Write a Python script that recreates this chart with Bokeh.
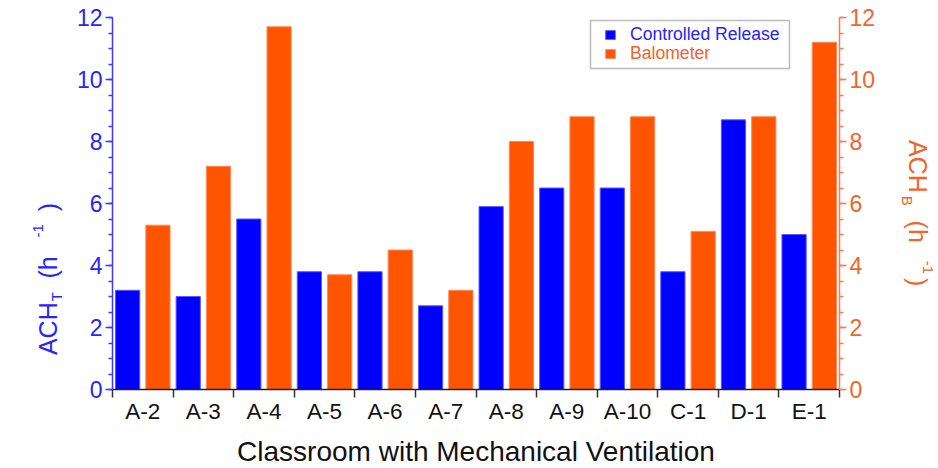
import numpy as np
from bokeh.plotting import figure
from bokeh.models import (ColumnDataSource, Range1d, LinearAxis, SingleIntervalTicker,
                          FixedTicker, Legend, LegendItem, Label, BoxAnnotation)
from bokeh.transform import dodge
from bokeh.embed import file_html
from bokeh.resources import INLINE

# ---- data ----
classrooms = ["A-2", "A-3", "A-4", "A-5", "A-6", "A-7", "A-8", "A-9", "A-10", "C-1", "D-1", "E-1"]
controlled_release = [3.2, 3.0, 5.5, 3.8, 3.8, 2.7, 5.9, 6.5, 6.5, 3.8, 8.7, 5.0]
balometer = [5.3, 7.2, 11.7, 3.7, 4.5, 3.2, 8.0, 8.8, 8.8, 5.1, 8.8, 11.2]
y_max = 12

FONT = "Liberation Sans"
BLUE = "#0000ff"
ORANGE = "#ff5500"
BLUE_AX = "#3a3aff"
ORANGE_AX = "#ff7a48"
BLUE_TXT = "#2424ff"
ORANGE_TXT = "#f2642a"

W, H = 938, 468
# pixel placement of the plotting area inside the canvas
PX_L, PX_R, PX_T, PX_B = 112, 839, 17, 389

n = len(classrooms)
centers = [i + 0.5 for i in range(n)]
src = ColumnDataSource(dict(x=centers, t=controlled_release, b=balometer, name=classrooms))

sx = (PX_R - PX_L) / n
sy = (PX_B - PX_T) / y_max
x_rng = Range1d(-PX_L / sx, n + (W - PX_R) / sx)
y_rng = Range1d(-(H - PX_B) / sy, y_max + PX_T / sy)

p = figure(width=W, height=H, output_backend="svg", toolbar_location=None,
           x_range=x_rng, y_range=y_rng,
           min_border_left=0, min_border_right=0, min_border_top=0, min_border_bottom=0,
           x_axis_type=None, y_axis_type=None)
p.outline_line_color = None
p.xgrid.visible = False
p.ygrid.visible = False
p.extra_y_ranges = {"right": Range1d(y_rng.start, y_rng.end)}

rb = p.vbar(x=dodge("x", -0.25), top="t", bottom=0, width=0.4, source=src,
            fill_color=BLUE, line_color="#5a5aff", line_width=1)
ro = p.vbar(x=dodge("x", 0.25), top="b", bottom=0, width=0.4, source=src,
            y_range_name="right", fill_color=ORANGE, line_color="#ff8a5a", line_width=1)


def style_y(ax, line_col, txt_col):
    ax.axis_line_color = line_col
    ax.axis_line_width = 1.5
    ax.major_tick_line_color = line_col
    ax.minor_tick_line_color = line_col
    ax.major_tick_line_width = 1.5
    ax.minor_tick_line_width = 1.5
    ax.major_tick_out = 7
    ax.major_tick_in = 0
    ax.minor_tick_out = 4
    ax.minor_tick_in = 0
    ax.major_label_text_color = txt_col
    ax.major_label_text_font = FONT
    ax.major_label_text_font_size = "23px"
    ax.major_label_standoff = 3


# left axis
yl = LinearAxis(ticker=SingleIntervalTicker(interval=2, num_minor_ticks=4),
                fixed_location=0, bounds=(0, y_max))
style_y(yl, BLUE_AX, BLUE_TXT)
p.add_layout(yl, "left")

# right axis
yr = LinearAxis(y_range_name="right", ticker=SingleIntervalTicker(interval=2, num_minor_ticks=4),
                fixed_location=n, bounds=(0, y_max))
style_y(yr, ORANGE_AX, ORANGE_TXT)
p.add_layout(yr, "right")

# x axis: labels at centers, tick marks at group boundaries
xa = LinearAxis(ticker=FixedTicker(ticks=centers, minor_ticks=list(range(n + 1))),
                fixed_location=0, bounds=(0, n))
xa.major_label_overrides = {c: name for c, name in zip(centers, classrooms)}
xa.axis_line_color = "#222222"
xa.axis_line_width = 1.5
xa.major_tick_line_color = None
xa.major_tick_out = 0
xa.major_tick_in = 0
xa.minor_tick_line_color = "#333333"
xa.minor_tick_line_width = 1.5
xa.minor_tick_out = 8
xa.minor_tick_in = 0
xa.major_label_text_font = FONT
xa.major_label_text_font_size = "22.5px"
xa.major_label_text_color = "#111111"
xa.major_label_standoff = 1
xa.axis_label = "Classroom with Mechanical Ventilation"
xa.axis_label_text_font = FONT
xa.axis_label_text_font_style = "normal"
xa.axis_label_text_font_size = "28px"
xa.axis_label_text_color = "#111111"
xa.axis_label_standoff = 9
p.add_layout(xa, "below")


# y axis titles composed of pieces (sub/superscripts)
def piece(x, y, text, size, color, angle):
    p.add_layout(Label(x=x, y=y, text=text, angle=angle, text_font=FONT,
                       text_font_size=size, text_color=color,
                       text_align="left", text_baseline="middle"))


a = np.pi / 2
piece(-1.07, 1.11, "ACH", "25px", BLUE_TXT, a)
piece(-0.93, 2.85, "T", "15px", BLUE_TXT, a)
piece(-1.07, 3.58, "(h", "25px", BLUE_TXT, a)
piece(-1.23, 4.90, "-1", "15px", BLUE_TXT, a)
piece(-1.07, 5.75, ")", "25px", BLUE_TXT, a)

piece(13.30, 8.05, "ACH", "25px", ORANGE_TXT, -a)
piece(13.13, 6.25, "B", "15px", ORANGE_TXT, -a)
piece(13.30, 5.45, "(h", "25px", ORANGE_TXT, -a)
piece(13.46, 4.15, "-1", "15px", ORANGE_TXT, -a)
piece(13.30, 3.60, ")", "25px", ORANGE_TXT, -a)

# legend: two single-item legends inside one border box
common = dict(background_fill_alpha=0, border_line_color=None, padding=2, margin=0,
              glyph_width=12, glyph_height=11, label_height=16, label_standoff=14,
              label_text_font=FONT, label_text_font_size="17.6px", spacing=0)
leg1 = Legend(items=[LegendItem(label="Controlled Release", renderers=[rb])],
              location=(604, 423), label_text_color=BLUE_TXT, **common)
leg2 = Legend(items=[LegendItem(label="Balometer", renderers=[ro])],
              location=(604, 404), label_text_color=ORANGE_TXT, **common)
p.add_layout(leg1)
p.add_layout(leg2)
p.add_layout(BoxAnnotation(left=7.89, right=11.175, bottom=10.355, top=11.90,
                           fill_alpha=0, line_color="#222222", line_width=1.5))

open("out.html", "w").write(file_html(p, INLINE))
